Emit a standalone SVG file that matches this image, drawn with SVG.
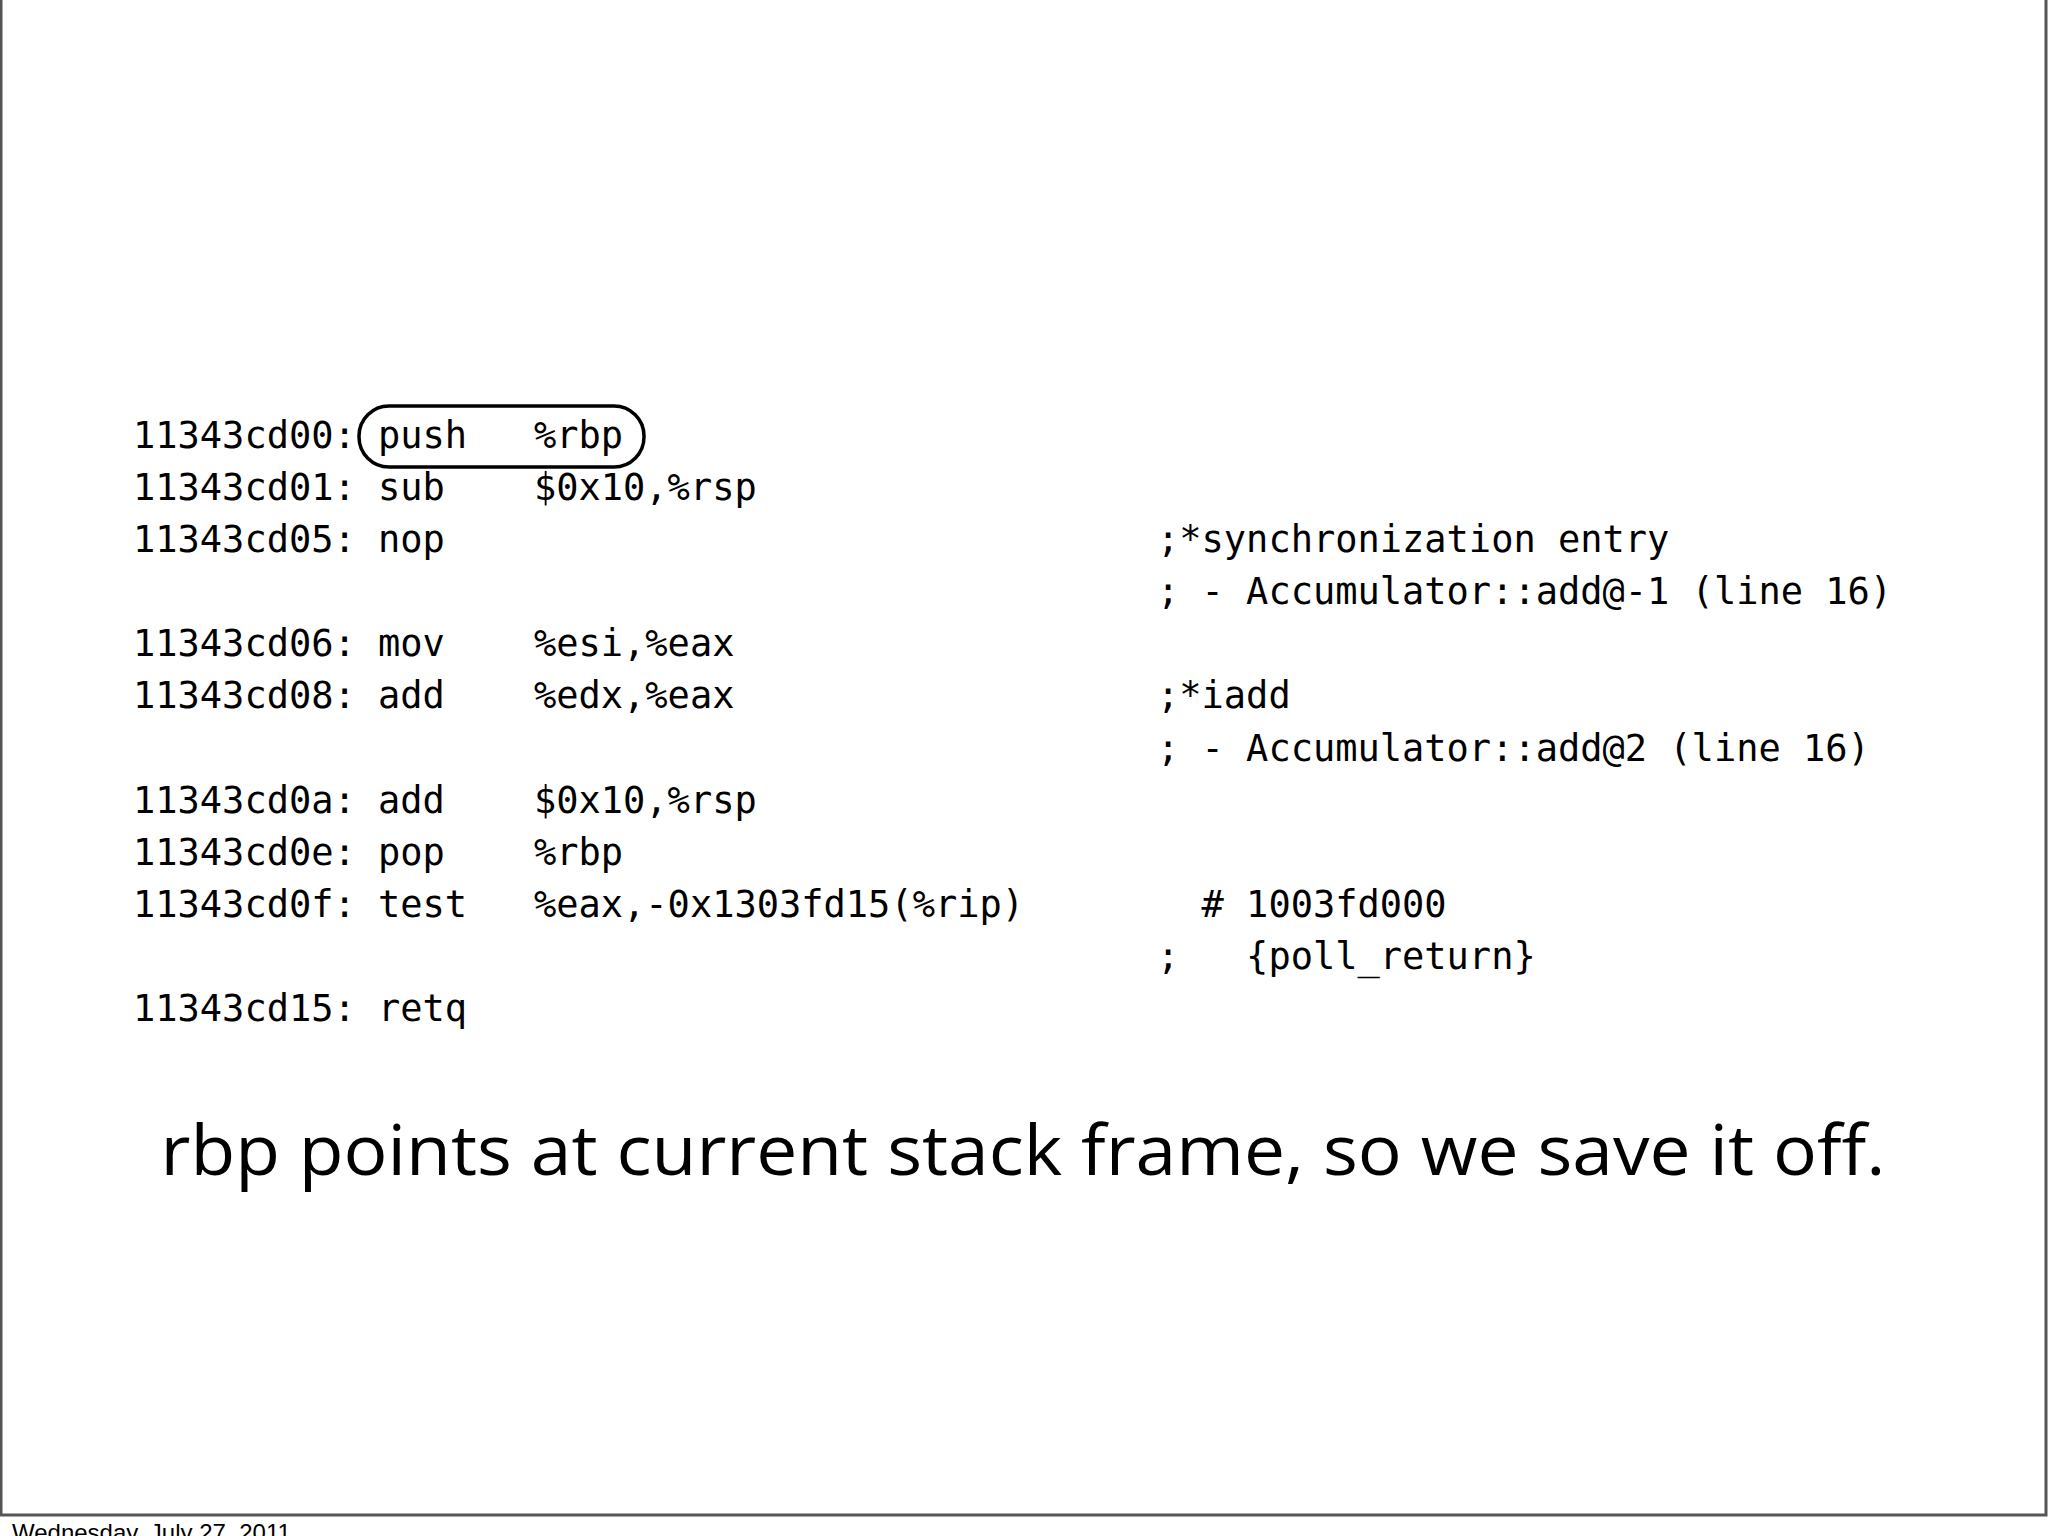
<svg xmlns="http://www.w3.org/2000/svg" width="2048" height="1536" viewBox="0 0 2048 1536">
<style>
.c{font-family:"DejaVu Sans Mono","Liberation Mono",monospace;font-size:37px;fill:#000;white-space:pre}
</style>
<rect width="2048" height="1536" fill="#fff"/>
<path d="M1 0 V1515 H2046 V0" fill="none" stroke="#555" stroke-width="3"/>
<g id="code">
<text class="c" x="133" y="448">11343cd00: push   %rbp</text>
<text class="c" x="133" y="500">11343cd01: sub    $0x10,%rsp</text>
<text class="c" x="133" y="552">11343cd05: nop</text>
<text class="c" x="133" y="656">11343cd06: mov    %esi,%eax</text>
<text class="c" x="133" y="708">11343cd08: add    %edx,%eax</text>
<text class="c" x="133" y="813">11343cd0a: add    $0x10,%rsp</text>
<text class="c" x="133" y="865">11343cd0e: pop    %rbp</text>
<text class="c" x="133" y="917">11343cd0f: test   %eax,-0x1303fd15(%rip)</text>
<text class="c" x="133" y="1021">11343cd15: retq</text>
<text class="c" x="1157" y="552">;*synchronization entry</text>
<text class="c" x="1157" y="604">; - Accumulator::add@-1 (line 16)</text>
<text class="c" x="1157" y="708">;*iadd</text>
<text class="c" x="1157" y="761">; - Accumulator::add@2 (line 16)</text>
<text class="c" x="1157" y="917">  # 1003fd000</text>
<text class="c" x="1157" y="969">;   {poll_return}</text>
</g>
<g id="highlight">
<rect x="359" y="406" width="285" height="61" rx="30" fill="none" stroke="#000" stroke-width="3.5"/>
</g>
<g id="caption">
<text x="1023" y="1175" text-anchor="middle" font-family="'Open Sans','Liberation Sans',sans-serif" font-size="70" textLength="1725" lengthAdjust="spacingAndGlyphs">rbp points at current stack frame, so we save it off.</text>
</g>
<text x="12" y="1541" font-family="'Liberation Sans',sans-serif" font-size="24">Wednesday, July 27, 2011</text>
</svg>
